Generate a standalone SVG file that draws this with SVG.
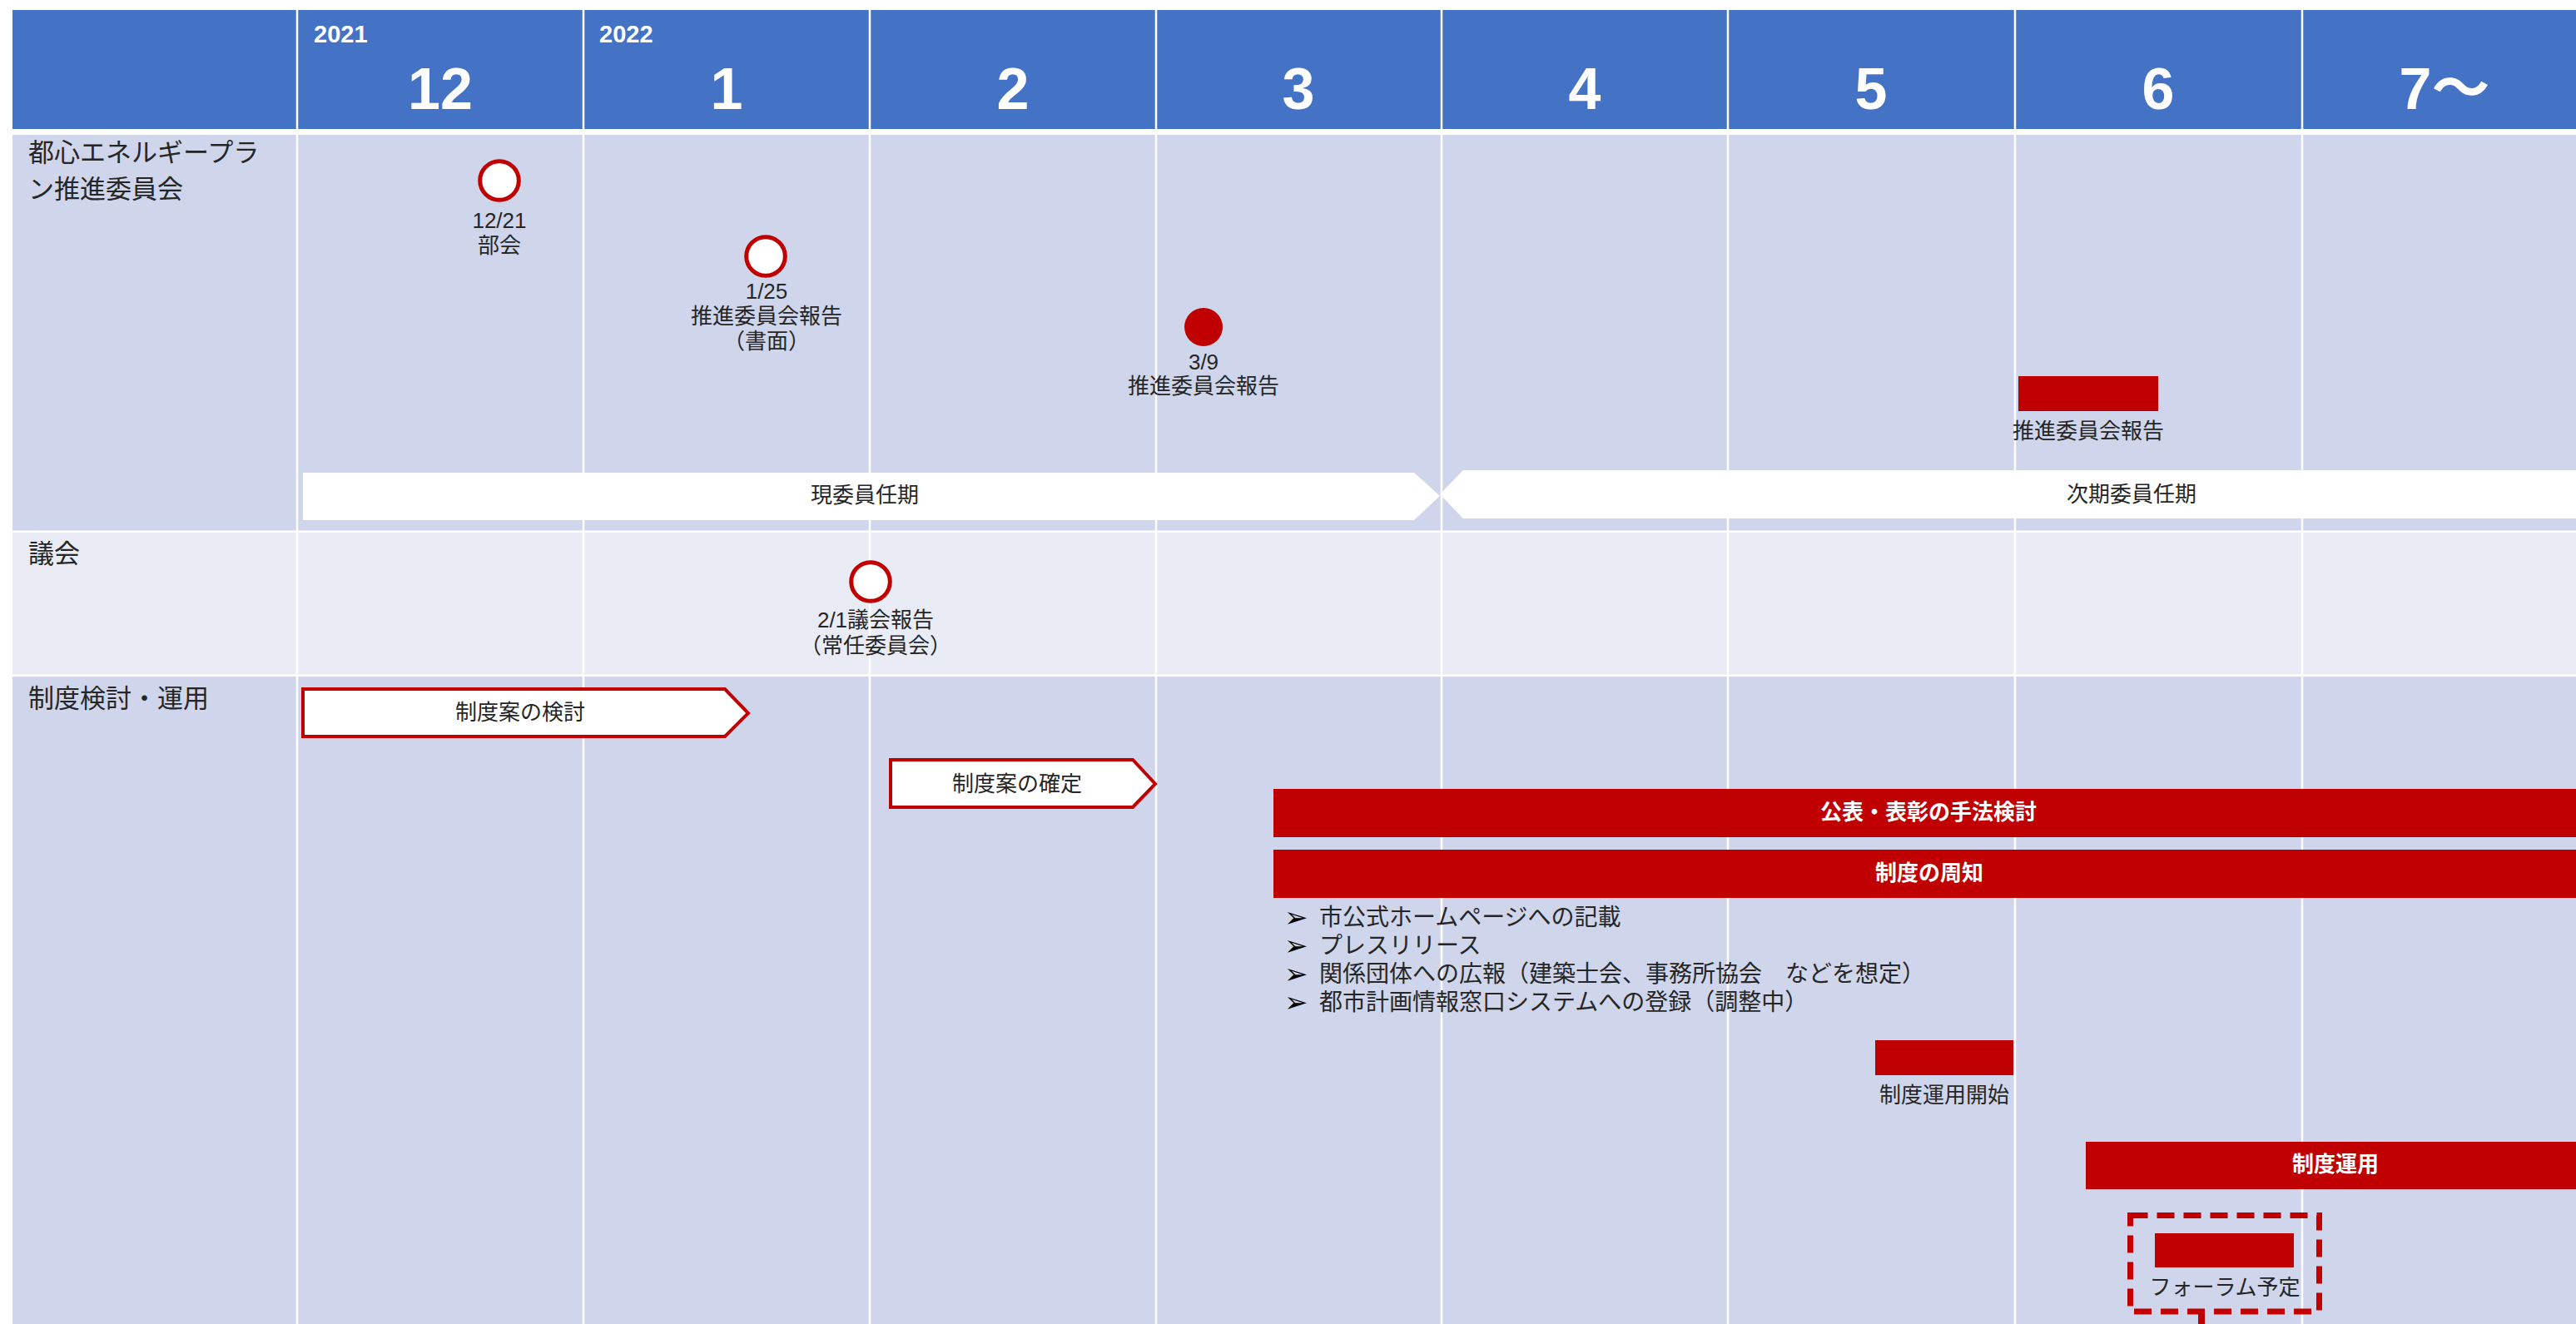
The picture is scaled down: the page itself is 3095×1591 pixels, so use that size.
<svg xmlns="http://www.w3.org/2000/svg" width="3095" height="1591" viewBox="0 0 3095 1591">
<style>
.hdr{fill:#4472C4}
.r1{fill:#CFD5EA}
.r2{fill:#E9EBF5}
.vl{stroke:#FFFFFF;stroke-width:2.5}
.yr{font-family:"Liberation Sans","Noto Sans CJK JP",sans-serif;font-weight:bold;font-size:29px;fill:#FFFFFF}
.mo{font-family:"Liberation Sans","Noto Sans CJK JP",sans-serif;font-weight:bold;font-size:70px;fill:#FFFFFF;text-anchor:middle}
.rl{font-family:"Noto Sans CJK JP",sans-serif;font-size:31px;fill:#262626}
.t{font-family:"Liberation Sans","Noto Sans CJK JP",sans-serif;font-size:26px;fill:#262626;text-anchor:middle}
.tb{font-family:"Noto Sans CJK JP",sans-serif;font-size:26px;font-weight:bold;fill:#FFFFFF;text-anchor:middle}
.bl{font-family:"Noto Sans CJK JP",sans-serif;font-size:28px;fill:#262626}
.bm{font-family:"DejaVu Sans",sans-serif;font-size:34px;fill:#000000}
.ring{fill:#FFFFFF;stroke:#C00000;stroke-width:5}
.dot{fill:#C00000}
.red{fill:#C00000}
.pent{fill:#FFFFFF;stroke:#C00000;stroke-width:4}
.term{fill:#FFFFFF}
</style>
<rect width="3095" height="1591" fill="#FFFFFF"/>
<g id="table">
  <rect class="hdr" x="15" y="12" width="3080" height="143"/>
  <rect class="r1" x="15" y="162" width="3080" height="475.5"/>
  <rect class="r2" x="15" y="640" width="3080" height="170.5"/>
  <rect class="r1" x="15" y="813" width="3080" height="778"/>
  <line class="vl" x1="357" y1="12" x2="357" y2="1591"/>
  <line class="vl" x1="701" y1="12" x2="701" y2="1591"/>
  <line class="vl" x1="1045" y1="12" x2="1045" y2="1591"/>
  <line class="vl" x1="1389" y1="12" x2="1389" y2="1591"/>
  <line class="vl" x1="1732" y1="12" x2="1732" y2="1591"/>
  <line class="vl" x1="2076" y1="12" x2="2076" y2="1591"/>
  <line class="vl" x1="2421" y1="12" x2="2421" y2="1591"/>
  <line class="vl" x1="2766" y1="12" x2="2766" y2="1591"/>
  <text class="yr" x="377" y="51">2021</text>
  <text class="yr" x="720" y="51">2022</text>
  <text class="mo" x="529" y="131">12</text>
  <text class="mo" x="873" y="131">1</text>
  <text class="mo" x="1217" y="131">2</text>
  <text class="mo" x="1560" y="131">3</text>
  <text class="mo" x="1904" y="131">4</text>
  <text class="mo" x="2248" y="131">5</text>
  <text class="mo" x="2593" y="131">6</text>
  <text class="mo" x="2937" y="131">7～</text>
  <text class="rl" x="34" y="194">都心エネルギープラ</text>
  <text class="rl" x="34" y="238">ン推進委員会</text>
  <text class="rl" x="34" y="676">議会</text>
  <text class="rl" x="34" y="850">制度検討・運用</text>
</g>
<g id="term-current">
  <polygon class="term" points="364,568 1699,568 1730,596 1699,625 364,625"/>
  <text class="t" x="1039" y="604">現委員任期</text>
</g>
<g id="term-next">
  <polygon class="term" points="1758,565 3095,565 3095,623 1758,623 1730,594"/>
  <text class="t" x="2561" y="603">次期委員任期</text>
</g>
<g id="m-1221">
  <circle class="ring" cx="600" cy="217" r="23.3"/>
  <text class="t" x="600" y="274">12/21</text>
  <text class="t" x="600" y="304">部会</text>
</g>
<g id="m-0125">
  <circle class="ring" cx="920" cy="308" r="23.3"/>
  <text class="t" x="921" y="359">1/25</text>
  <text class="t" x="921" y="389">推進委員会報告</text>
  <text class="t" x="921" y="419">（書面）</text>
</g>
<g id="m-0309">
  <circle class="dot" cx="1446" cy="393" r="23"/>
  <text class="t" x="1446" y="444">3/9</text>
  <text class="t" x="1446" y="473">推進委員会報告</text>
</g>
<g id="m-june">
  <rect class="red" x="2425" y="452" width="168" height="42"/>
  <text class="t" x="2509" y="527">推進委員会報告</text>
</g>
<g id="m-0201">
  <circle class="ring" cx="1046" cy="699" r="23.3"/>
  <text class="t" x="1052" y="754">2/1議会報告</text>
  <text class="t" x="1052" y="785">（常任委員会）</text>
</g>
<g id="n-kento">
  <polygon class="pent" points="364,828 871,828 899,857 871,885 364,885"/>
  <text class="t" x="625" y="865">制度案の検討</text>
</g>
<g id="n-kakutei">
  <polygon class="pent" points="1070,913 1361,913 1388,942 1361,970 1070,970"/>
  <text class="t" x="1222" y="951">制度案の確定</text>
</g>
<g id="n-kohyo">
  <rect class="red" x="1530" y="948" width="1565" height="58"/>
  <text class="tb" x="2317" y="985">公表・表彰の手法検討</text>
</g>
<g id="n-shuchi">
  <rect class="red" x="1530" y="1021" width="1565" height="58"/>
  <text class="tb" x="2318" y="1058">制度の周知</text>
</g>
<g id="n-bullets">
  <text class="bm" x="1543" y="1114">➢</text>
  <text class="bl" x="1585" y="1112">市公式ホームページへの記載</text>
  <text class="bm" x="1543" y="1148">➢</text>
  <text class="bl" x="1585" y="1146">プレスリリース</text>
  <text class="bm" x="1543" y="1182">➢</text>
  <text class="bl" x="1585" y="1180">関係団体への広報（建築士会、事務所協会　などを想定）</text>
  <text class="bm" x="1543" y="1216">➢</text>
  <text class="bl" x="1585" y="1214">都市計画情報窓口システムへの登録（調整中）</text>
</g>
<g id="n-kaishi">
  <rect class="red" x="2253" y="1250" width="166" height="42"/>
  <text class="t" x="2336" y="1325">制度運用開始</text>
</g>
<g id="n-unyo">
  <rect class="red" x="2506" y="1372" width="589" height="57"/>
  <text class="tb" x="2806" y="1408">制度運用</text>
</g>
<g id="n-forum">
  <rect x="2559.5" y="1460.5" width="227" height="115.5" fill="none" stroke="#C00000" stroke-width="7" stroke-dasharray="21 11"/>
  <rect class="red" x="2589" y="1482" width="167" height="41"/>
  <text class="t" x="2673" y="1556">フォーラム予定</text>
</g>
<g id="connectors">
  <line x1="2645" y1="1576" x2="2645" y2="1591" stroke="#C00000" stroke-width="8"/>
</g>
</svg>
